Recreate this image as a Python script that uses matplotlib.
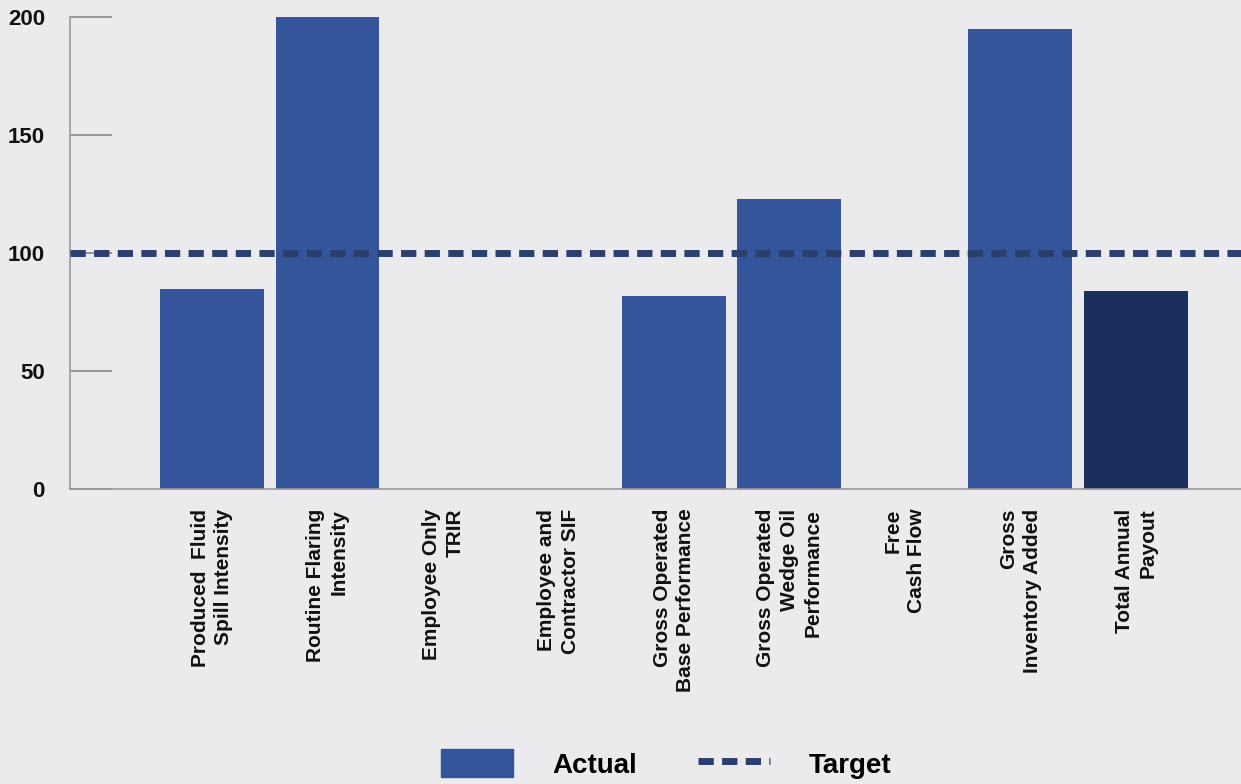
import numpy as np
import matplotlib
matplotlib.use("Agg")
import matplotlib.pyplot as plt
from matplotlib.patches import Patch
from matplotlib.lines import Line2D

plt.rcParams['font.family'] = ['Liberation Sans', 'DejaVu Sans']
plt.rcParams['font.weight'] = 'bold'

categories = ["Produced  Fluid\nSpill Intensity", "Routine Flaring\nIntensity",
              "Employee Only\nTRIR", "Employee and\nContractor SIF",
              "Gross Operated\nBase Performance", "Gross Operated\nWedge Oil\nPerformance",
              "Free\nCash Flow", "Gross\nInventory Added", "Total Annual\nPayout"]
actual = [85, 200, 0, 0, 82, 123, 0, 195, 84]
target = 100

bg = "#ebebed"
blue = "#34559c"
dark = "#1b2f5c"
line_col = "#2b3f6e"

fig = plt.figure(figsize=(12.41, 7.84), dpi=100, facecolor=bg)
ax = fig.add_axes([0.0564, 0.376, 0.9436, 0.602], facecolor=bg)

x = np.arange(len(categories))
colors = [blue] * (len(categories) - 1) + [dark]
ax.bar(x, actual, width=0.9, color=colors, zorder=2)
ax.axhline(target, color=line_col, lw=5, ls=(0, (2.2, 1.2)), zorder=3)

ax.set_xlim(-1.23, 8.91)
ax.set_ylim(0, 200)
ax.set_yticks([0, 50, 100, 150, 200])
ax.tick_params(axis='y', labelsize=16, direction='in', length=30, width=1.2,
               color="#888888", pad=-14, labelcolor="#111111")
for lbl in ax.get_yticklabels():
    lbl.set_horizontalalignment('right')
ax.tick_params(axis='y', pad=18)
ax.tick_params(axis='x', length=0, pad=14)
ax.set_xticks(x)
ax.set_xticklabels(categories, rotation=90, fontsize=15, ha='center', va='top',
                   multialignment='right', color="#111111", linespacing=1.3)
for s in ['top', 'right']:
    ax.spines[s].set_visible(False)
for s in ['left', 'bottom']:
    ax.spines[s].set_color("#999999")
    ax.spines[s].set_linewidth(1.2)

handles = [Patch(color=blue), Line2D([0], [0], color=line_col, lw=5, ls=(0, (2.2, 1.2)))]
fig.legend(handles, ["Actual", "Target"], loc='lower center', bbox_to_anchor=(0.537, -0.025),
           ncol=2, frameon=False, fontsize=20, handlelength=2.6, handleheight=1.2,
           columnspacing=2.2, handletextpad=1.4)

fig.savefig("out.png", dpi=100, facecolor=bg)
